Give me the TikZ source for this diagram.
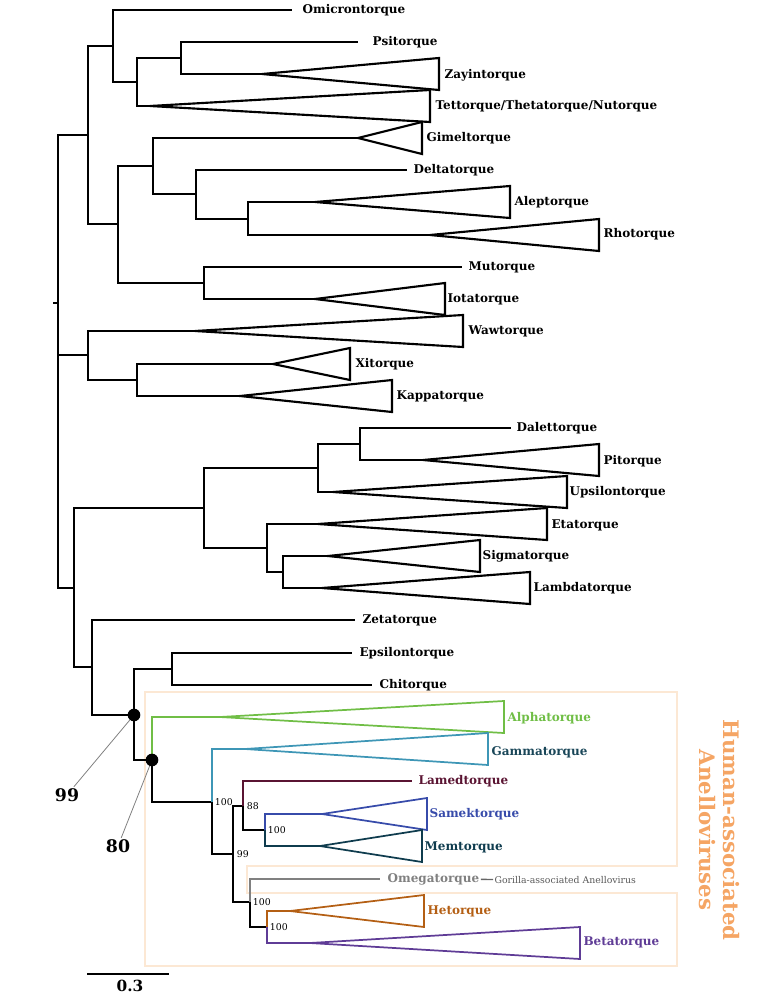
\documentclass[tikz,border=0pt]{standalone}
\usepackage{fontspec}
\setmainfont{DejaVu Serif}
\usetikzlibrary{positioning}

\definecolor{alphagreen}{RGB}{112,190,70}
\definecolor{gammacyan}{RGB}{62,150,182}
\definecolor{gammatext}{RGB}{25,70,88}
\definecolor{lamedred}{RGB}{90,20,50}
\definecolor{samekblue}{RGB}{55,75,170}
\definecolor{memteal}{RGB}{15,60,78}
\definecolor{omegagray}{RGB}{128,128,128}
\definecolor{hetorange}{RGB}{180,95,20}
\definecolor{betapurple}{RGB}{95,60,150}
\definecolor{boxpeach}{RGB}{252,232,212}
\definecolor{humanorange}{RGB}{245,165,100}

\tikzset{
  br/.style={line width=1.6pt},
  cbr/.style={line width=1.3pt},
  tip/.style={font=\bfseries\fontsize{9}{10}\selectfont, inner sep=1pt, anchor=west},
  boot/.style={font=\fontsize{7}{8}\selectfont, inner sep=0.5pt, anchor=west},
  dot/.style={circle, fill=black, inner sep=0pt, minimum size=9.5pt},
  lead/.style={gray, line width=0.6pt},
  big/.style={font=\bfseries\fontsize{13}{15}\selectfont, inner sep=1pt},
}

\begin{document}
\begin{tikzpicture}[x=0.75pt,y=-0.75pt]
\useasboundingbox (0,0) rectangle (767,1000);

% box round the human clades
\draw[boxpeach, line width=0.8pt] (145,692) -- (677,692) -- (677,866) -- (247,866) -- (247,893) -- (677,893) -- (677,966) -- (145,966) -- cycle;

% inner nodes
\coordinate (root) at (58,303);
\coordinate (a) at (88,135);
\coordinate (a1) at (113,46);
\coordinate (a11) at (137,82);
\coordinate (a111) at (181,58);
\coordinate (a2) at (118,224);
\coordinate (a21) at (153,166);
\coordinate (a211) at (196,194);
\coordinate (a2111) at (248,219);
\coordinate (a22) at (204,283);
\coordinate (b) at (88,355);
\coordinate (b1) at (137,380);
\coordinate (c) at (74,588);
\coordinate (c1) at (204,508);
\coordinate (c11) at (318,468);
\coordinate (c111) at (360,444);
\coordinate (c12) at (267,548);
\coordinate (c121) at (283,572);
\coordinate (c2) at (92,667);
\coordinate (d) at (134,715);
\coordinate (d1) at (172,669);
\coordinate (e) at (152,760);
\coordinate (f) at (212,802);
\coordinate (g) at (233,854);
\coordinate (h) at (243,806);
\coordinate (j) at (265,830);
\coordinate (i) at (250,902);
\coordinate (k) at (267,927);

% tips and clade apexes
\coordinate (omicron) at (292,10);
\coordinate (psi) at (358,42);
\coordinate (zayin) at (262,74);
\coordinate (tet) at (150,106);
\coordinate (gimel) at (358,138);
\coordinate (delta) at (407,170);
\coordinate (alep) at (315,202);
\coordinate (rho) at (430,235);
\coordinate (mu) at (462,267);
\coordinate (iota) at (315,299);
\coordinate (waw) at (195,331);
\coordinate (xi) at (273,364);
\coordinate (kappa) at (240,396);
\coordinate (dalet) at (511,428);
\coordinate (pi) at (423,460);
\coordinate (upsilon) at (333,492);
\coordinate (eta) at (318,524);
\coordinate (sigma) at (328,556);
\coordinate (lambda) at (322,588);
\coordinate (zeta) at (355,620);
\coordinate (epsilon) at (352,653);
\coordinate (chi) at (372,685);
\coordinate (alpha) at (220,717);
\coordinate (gamma) at (245,749);
\coordinate (lamed) at (412,781);
\coordinate (samek) at (322,814);
\coordinate (mem) at (320,846);
\coordinate (omega) at (380,879);
\coordinate (het) at (290,911);
\coordinate (beta) at (310,943);

% black branches
\draw[br] (root) -- ++(-5,0) (root) |- (a) (root) |- (b) (root) |- (c);
\draw[br] (a) |- (a1) (a) |- (a2) (a1) |- (omicron) (a1) |- (a11) (a11) |- (a111) (a11) |- (tet);
\draw[br] (a111) |- (psi) (a111) |- (zayin);
\draw[br] (a2) |- (a21) (a2) |- (a22) (a21) |- (gimel) (a21) |- (a211) (a211) |- (delta) (a211) |- (a2111);
\draw[br] (a2111) |- (alep) (a2111) |- (rho) (a22) |- (mu) (a22) |- (iota);
\draw[br] (b) |- (waw) (b) |- (b1) (b1) |- (xi) (b1) |- (kappa);
\draw[br] (c) |- (c1) (c) |- (c2) (c1) |- (c11) (c1) |- (c12) (c11) |- (c111) (c11) |- (upsilon);
\draw[br] (c111) |- (dalet) (c111) |- (pi) (c12) |- (eta) (c12) |- (c121) (c121) |- (sigma) (c121) |- (lambda);
\draw[br] (c2) |- (zeta) (c2) |- (d) (d) |- (d1) (d) |- (e) (d1) |- (epsilon) (d1) |- (chi);
\draw[cbr] (e) |- (f) (f) |- (g) (g) |- (h) (g) |- (i) (h) |- (j) (i) |- (k);

% coloured branches
\draw[cbr, alphagreen] (e) |- (alpha);
\draw[cbr, gammacyan] (f) |- (gamma);
\draw[cbr, lamedred] (h) |- (lamed);
\draw[cbr, samekblue] (j) |- (samek);
\draw[cbr, memteal] (j) |- (mem);
\draw[cbr, omegagray] (i) |- (omega);
\draw[cbr, hetorange] (k) |- (het);
\draw[cbr, betapurple] (k) |- (beta);

% collapsed clades
\draw[br] (zayin) -- ++(177,-16) -- ++(0,32) -- cycle;
\draw[br] (tet) -- ++(280,-16) -- ++(0,32) -- cycle;
\draw[br] (gimel) -- ++(64,-16) -- ++(0,32) -- cycle;
\draw[br] (alep) -- ++(195,-16) -- ++(0,32) -- cycle;
\draw[br] (rho) -- ++(169,-16) -- ++(0,32) -- cycle;
\draw[br] (iota) -- ++(130,-16) -- ++(0,32) -- cycle;
\draw[br] (waw) -- ++(268,-16) -- ++(0,32) -- cycle;
\draw[br] (xi) -- ++(77,-16) -- ++(0,32) -- cycle;
\draw[br] (kappa) -- ++(152,-16) -- ++(0,32) -- cycle;
\draw[br] (pi) -- ++(176,-16) -- ++(0,32) -- cycle;
\draw[br] (upsilon) -- ++(234,-16) -- ++(0,32) -- cycle;
\draw[br] (eta) -- ++(229,-16) -- ++(0,32) -- cycle;
\draw[br] (sigma) -- ++(152,-16) -- ++(0,32) -- cycle;
\draw[br] (lambda) -- ++(208,-16) -- ++(0,32) -- cycle;
\draw[cbr, alphagreen] (alpha) -- ++(284,-16) -- ++(0,32) -- cycle;
\draw[cbr, gammacyan] (gamma) -- ++(243,-16) -- ++(0,32) -- cycle;
\draw[cbr, samekblue] (samek) -- ++(105,-16) -- ++(0,32) -- cycle;
\draw[cbr, memteal] (mem) -- ++(102,-16) -- ++(0,32) -- cycle;
\draw[cbr, hetorange] (het) -- ++(134,-16) -- ++(0,32) -- cycle;
\draw[cbr, betapurple] (beta) -- ++(270,-16) -- ++(0,32) -- cycle;

% names
\node[tip] (omicronL) at (301,10) {Omicrontorque};
\node[tip] (psiL) at (371,42) {Psitorque};
\node[tip] (zayinL) at (443,75) {Zayintorque};
\node[tip] (tetL) at (434,106) {Tettorque/Thetatorque/Nutorque};
\node[tip] (gimelL) at (425,138) {Gimeltorque};
\node[tip] (deltaL) at (412,170) {Deltatorque};
\node[tip] (alepL) at (513,202) {Aleptorque};
\node[tip] (rhoL) at (602,234) {Rhotorque};
\node[tip] (muL) at (467,267) {Mutorque};
\node[tip] (iotaL) at (446,299) {Iotatorque};
\node[tip] (wawL) at (467,331) {Wawtorque};
\node[tip] (xiL) at (354,364) {Xitorque};
\node[tip] (kappaL) at (395,396) {Kappatorque};
\node[tip] (daletL) at (515,428) {Dalettorque};
\node[tip] (piL) at (602,461) {Pitorque};
\node[tip] (upsilonL) at (568,492) {Upsilontorque};
\node[tip] (etaL) at (550,525) {Etatorque};
\node[tip] (sigmaL) at (481,556) {Sigmatorque};
\node[tip] (lambdaL) at (532,588) {Lambdatorque};
\node[tip] (zetaL) at (361,620) {Zetatorque};
\node[tip] (epsilonL) at (358,653) {Epsilontorque};
\node[tip] (chiL) at (378,685) {Chitorque};
\node[tip, text=alphagreen] (alphaL) at (506,718) {Alphatorque};
\node[tip, text=gammatext] (gammaL) at (490,752) {Gammatorque};
\node[tip, text=lamedred] (lamedL) at (417,781) {Lamedtorque};
\node[tip, text=samekblue] (samekL) at (428,814) {Samektorque};
\node[tip, text=memteal] (memL) at (423,847) {Memtorque};
\node[tip, text=omegagray] (omegaL) at (386,879) {Omegatorque};
\node[tip, font=\fontsize{7}{8}\selectfont, text=black!65] (gorillaL) at (493,880) {Gorilla-associated Anellovirus};
\draw[line width=1pt, black!60] (omegaL) -- (gorillaL);
\node[tip, text=hetorange] (hetL) at (426,911) {Hetorque};
\node[tip, text=betapurple] (betaL) at (582,942) {Betatorque};

% support values
\node[boot] (bsF) at (214,802) {100};
\node[boot] (bsH) at (246,806) {88};
\node[boot] (bsJ) at (267,830) {100};
\node[boot] (bsG) at (236,854) {99};
\node[boot] (bsI) at (252,902) {100};
\node[boot] (bsK) at (269,927) {100};

\node[dot] (dotD) at (d) {};
\node[dot] (dotE) at (e) {};
\node[big] (bs99) at (67,795) {99};
\node[big] (bs80) at (118,846) {80};
\draw[lead] (dotD) -- (bs99);
\draw[lead] (dotE) -- (bs80);

% scale bar
\coordinate (sbL) at (87,974);
\coordinate (sbR) at (169,974);
\draw[line width=2pt] (sbL) -- (sbR);
\node[font=\bfseries\fontsize{11.5}{13}\selectfont, inner sep=1pt] (sbT) at (130,986) {0.3};

\node[rotate=-90, align=center, text=humanorange, font=\bfseries\fontsize{16}{18}\selectfont] (humanT) at (719,830) {Human-associated\\Anelloviruses};
\end{tikzpicture}
\end{document}
